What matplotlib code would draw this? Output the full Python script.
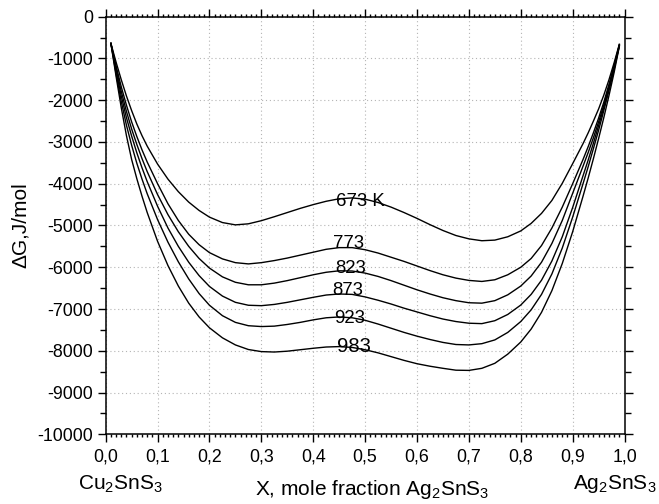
import matplotlib
matplotlib.use("Agg")
import matplotlib.pyplot as plt
from matplotlib.ticker import MultipleLocator

plt.rcParams["font.family"] = ["Liberation Sans", "DejaVu Sans"]
plt.rcParams["mathtext.fontset"] = "custom"
plt.rcParams["mathtext.rm"] = "Liberation Sans"
plt.rcParams["mathtext.default"] = "regular"

# mole fraction of Ag2SnS3
x = [0.01, 0.02, 0.03, 0.04, 0.05, 0.06, 0.07, 0.08,
     0.10, 0.12, 0.14, 0.16, 0.18, 0.20,
     0.225, 0.25, 0.275, 0.30, 0.325, 0.35, 0.375, 0.40, 0.425, 0.45, 0.475,
     0.50, 0.525, 0.55, 0.575, 0.60, 0.625, 0.65, 0.675, 0.70, 0.725,
     0.75, 0.775, 0.80,
     0.82, 0.84, 0.86, 0.88, 0.90, 0.92,
     0.93, 0.94, 0.95, 0.96, 0.97, 0.98, 0.99]

# Gibbs energy of mixing, J/mol
g673 = [-640, -1090, -1510, -1900, -2250, -2570, -2850, -3100,
        -3530, -3890, -4190, -4440, -4640, -4800,
        -4930, -4985, -4960, -4885, -4790, -4690, -4590, -4500, -4420, -4360, -4340,
        -4370, -4450, -4560, -4690, -4830, -4980, -5120, -5240, -5320, -5365,
        -5350, -5270, -5130,
        -4950, -4710, -4400, -3990, -3520, -3040,
        -2780, -2500, -2210, -1880, -1510, -1100, -660]
g773 = [-640, -1180, -1680, -2120, -2520, -2870, -3190, -3480,
        -4000, -4480, -4880, -5210, -5460, -5650,
        -5800, -5890, -5920, -5890, -5840, -5780, -5710, -5640, -5570, -5530, -5530,
        -5580, -5660, -5760, -5860, -5970, -6080, -6180, -6260, -6315, -6340,
        -6300, -6180, -6000,
        -5790, -5480, -5060, -4560, -4000, -3420,
        -3110, -2780, -2430, -2050, -1620, -1160, -670]
g823 = [-640, -1240, -1790, -2270, -2690, -3060, -3400, -3710,
        -4260, -4740, -5150, -5500, -5790, -6020,
        -6230, -6360, -6420, -6420, -6380, -6320, -6250, -6180, -6120, -6085, -6090,
        -6140, -6220, -6320, -6430, -6540, -6640, -6730, -6800, -6850, -6860,
        -6800, -6660, -6450,
        -6210, -5880, -5430, -4880, -4230, -3580,
        -3250, -2900, -2520, -2120, -1680, -1200, -680]
g873 = [-640, -1300, -1900, -2420, -2860, -3260, -3620, -3950,
        -4540, -5060, -5500, -5880, -6200, -6460,
        -6690, -6840, -6910, -6920, -6890, -6840, -6780, -6720, -6665, -6640, -6650,
        -6710, -6790, -6880, -6980, -7070, -7160, -7240, -7300, -7340, -7350,
        -7280, -7130, -6905,
        -6650, -6310, -5850, -5270, -4570, -3810,
        -3430, -3030, -2610, -2180, -1720, -1230, -690]
g923 = [-640, -1370, -2030, -2600, -3080, -3510, -3890, -4240,
        -4860, -5400, -5870, -6280, -6630, -6910,
        -7160, -7320, -7400, -7420, -7410, -7370, -7320, -7260, -7210, -7190, -7210,
        -7270, -7360, -7460, -7560, -7650, -7730, -7800, -7850, -7860, -7830,
        -7740, -7560, -7300,
        -7020, -6650, -6160, -5540, -4800, -4000,
        -3590, -3160, -2720, -2250, -1770, -1260, -700]
g983 = [-640, -1430, -2180, -2850, -3420, -3880, -4300, -4690,
        -5380, -5960, -6450, -6860, -7190, -7450,
        -7690, -7860, -7970, -8020, -8030, -8010, -7975, -7940, -7910, -7900, -7920,
        -7975, -8050, -8140, -8230, -8310, -8370, -8420, -8465, -8470, -8420,
        -8300, -8080, -7790,
        -7480, -7080, -6560, -5910, -5150, -4300,
        -3860, -3400, -2920, -2420, -1890, -1330, -710]

curve_labels = ["673 K", "773", "823", "873", "923", "983"]
series = [g673, g773, g823, g873, g923, g983]

xtick_vals = [0.0, 0.1, 0.2, 0.3, 0.4, 0.5, 0.6, 0.7, 0.8, 0.9, 1.0]
xtick_labels = ["0,0", "0,1", "0,2", "0,3", "0,4", "0,5", "0,6", "0,7", "0,8", "0,9", "1,0"]
ytick_vals = [0, -1000, -2000, -3000, -4000, -5000, -6000, -7000, -8000, -9000, -10000]
ytick_labels = ["0", "-1000", "-2000", "-3000", "-4000", "-5000", "-6000", "-7000", "-8000", "-9000", "-10000"]

fig = plt.figure(figsize=(6.59, 5.04), dpi=100)
ax = fig.add_axes([0.1604, 0.1383, 0.7873, 0.8286])

for g in series:
    ax.plot(x, g, color="black", lw=1.0)

# curve labels (centre positions in data units)
label_pos = [(0.491, -4430), (0.468, -5427), (0.472, -6025),
             (0.466, -6545), (0.471, -7222), (0.478, -7890)]
label_size = [13.4, 13.4, 13.4, 13.4, 13.4, 14.6]
for txt, (lx, ly), fs in zip(curve_labels, label_pos, label_size):
    ax.text(lx, ly, txt, ha="center", va="center", fontsize=fs)

ax.set_xlim(0, 1)
ax.set_ylim(-10000, 0)
ax.set_xticks(xtick_vals)
ax.set_xticklabels(xtick_labels)
ax.set_yticks(ytick_vals)
ax.set_yticklabels(ytick_labels)
ax.xaxis.set_minor_locator(MultipleLocator(0.01))
ax.yaxis.set_minor_locator(MultipleLocator(500))

ax.tick_params(which="both", direction="out", top=True, right=True,
               labeltop=False, labelright=False, width=1.0, labelsize=12.8)
ax.tick_params(axis="x", which="major", length=6, pad=4)
ax.tick_params(axis="x", which="minor", length=2.5)
ax.tick_params(axis="y", which="major", length=6, pad=3)
ax.tick_params(axis="y", which="minor", length=4)
for s in ax.spines.values():
    s.set_linewidth(1.1)

ax.grid(True, which="major", color="#b4b4b4", linestyle=(0, (1, 2.5)), lw=0.8)

ax.set_ylabel("ΔG,J/mol", fontsize=15)
ax.yaxis.set_label_coords(-0.146, 0.5)
ax.set_xlabel("X, mole fraction Ag$_2$SnS$_3$", fontsize=15)
ax.xaxis.set_label_coords(0.513, -0.105)

fig.text(120 / 659, 1 - 484 / 504, "Cu$_2$SnS$_3$", ha="center", va="center", fontsize=15)
fig.text(615 / 659, 1 - 484 / 504, "Ag$_2$SnS$_3$", ha="center", va="center", fontsize=15)

fig.savefig("out.png", dpi=100)
